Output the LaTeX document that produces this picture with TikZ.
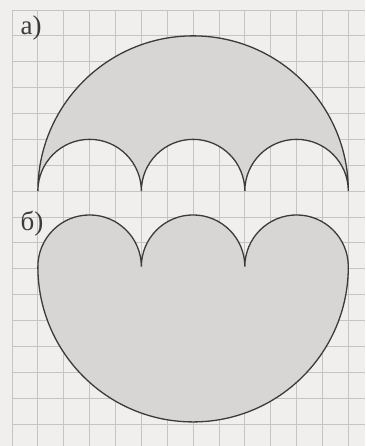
\documentclass[tikz,border=0pt]{standalone}
\usepackage{fontspec}
\setmainfont{Liberation Serif}
\definecolor{paper}{HTML}{F1EFED}
\definecolor{gridc}{HTML}{C6C4C2}
\definecolor{fillc}{HTML}{D8D6D5}
\definecolor{inkc}{HTML}{3C3A3A}
\tikzset{
  gridline/.style={gridc, line width=0.8pt},
  figshape/.style={draw=inkc, fill=fillc, line width=1.3pt, line join=miter},
  lbl/.style={font=\fontsize{27}{27}\selectfont, text=inkc, inner sep=0pt}
}
\begin{document}
\begin{tikzpicture}[x=1pt,y=1pt]
\def\s{25.87}
\useasboundingbox (0,0) rectangle (365,446);
\fill[paper] (0,0) rectangle (365,446);
% grid (image y measured from top: Y = 446 - y)
\foreach \k in {0,...,13} {
  \draw[gridline] ({12+\k*\s},0) -- ({12+\k*\s},436);
}
\foreach \k in {0,...,16} {
  \draw[gridline] (12,{436-\k*\s}) -- (365,{436-\k*\s});
}
% figure a
\coordinate (aR) at ({12+13*\s},{436-7*\s});
\path[figshape] (aR) arc[start angle=0, end angle=180, radius={6*\s}]
  arc[start angle=180, end angle=0, radius={2*\s}]
  arc[start angle=180, end angle=0, radius={2*\s}]
  arc[start angle=180, end angle=0, radius={2*\s}] -- cycle;
% figure b
\coordinate (bL) at ({12+1*\s},{446-266.7});
\path[figshape] (bL) arc[start angle=180, end angle=360, radius={6*\s}]
  arc[start angle=0, end angle=180, radius={2*\s}]
  arc[start angle=0, end angle=180, radius={2*\s}]
  arc[start angle=0, end angle=180, radius={2*\s}] -- cycle;
\node[lbl] (la) at (31,{446-28}) {а)};
\node[lbl] (lb) at (32,{446-224}) {б)};
\end{tikzpicture}
\end{document}
